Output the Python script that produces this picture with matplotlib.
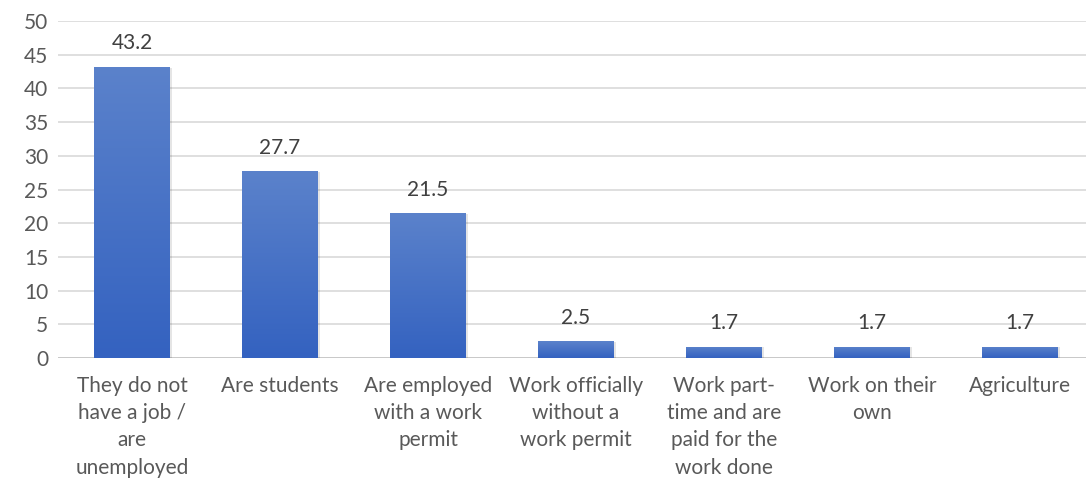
import numpy as np
import matplotlib.pyplot as plt
from matplotlib.colors import LinearSegmentedColormap

# =====================
# DATA
# =====================
categories = [
    "They do not\nhave a job /\nare\nunemployed",
    "Are students",
    "Are employed\nwith a work\npermit",
    "Work officially\nwithout a\nwork permit",
    "Work part-\ntime and are\npaid for the\nwork done",
    "Work on their\nown",
    "Agriculture",
]
values = [43.2, 27.7, 21.5, 2.5, 1.7, 1.7, 1.7]
yticks = [0, 5, 10, 15, 20, 25, 30, 35, 40, 45, 50]

# =====================
# STYLE
# =====================
plt.rcParams['font.family'] = ['Lato', 'DejaVu Sans']
TEXT = '#595959'
GRID = '#d9d9d9'
FS = 15
BAR_W = 0.51
bar_cmap = LinearSegmentedColormap.from_list('bar', ['#3462c0', '#5b82cb'])

W, H = 1086, 486
fig = plt.figure(figsize=(W / 100, H / 100), dpi=100)
# axes spans from the y-label column to past the right edge of the canvas
left_px, right_px, bottom_px, top_px = 58, 1086, 358, 21
ax = fig.add_axes([left_px / W, 1 - bottom_px / H,
                   (right_px - left_px) / W, (bottom_px - top_px) / H])

x = np.arange(len(categories))
ax.set_xlim(-0.5, -0.5 + (right_px - left_px) / 148)
ax.set_ylim(0, 50)

# horizontal gridlines
for t in yticks[1:]:
    ax.axhline(t, color=GRID, lw=1.2, zorder=0)
ax.axhline(0, color='#bfbfbf', lw=1.2, zorder=1)

# gradient bars with a faint shadow
grad = np.linspace(0, 1, 256).reshape(-1, 1)
for xi, v in zip(x, values):
    ax.bar(xi + 0.012, v, width=BAR_W, bottom=-0.12, color='#000000',
           alpha=0.10, zorder=1.5, lw=0)
    bar = ax.bar(xi, v, width=BAR_W, color='none', zorder=2, lw=0)[0]
    im = ax.imshow(grad, cmap=bar_cmap, aspect='auto', origin='lower',
                   extent=[xi - BAR_W / 2, xi + BAR_W / 2, 0, v], zorder=2)
    im.set_clip_path(bar)
    ax.text(xi, v + 2.0, f"{v}", ha='center', va='bottom',
            fontsize=FS, color='#404040')

ax.set_yticks(yticks)
ax.set_yticklabels([str(t) for t in yticks], fontsize=FS, color=TEXT)
ax.set_xticks(x)
ax.set_xticklabels(categories, fontsize=FS, color=TEXT, linespacing=1.45,
                   va='top')
ax.tick_params(axis='both', length=0)
ax.tick_params(axis='x', pad=13)
ax.tick_params(axis='y', pad=7)
for s in ax.spines.values():
    s.set_visible(False)

fig.savefig('out.png', dpi=100, facecolor='white')
